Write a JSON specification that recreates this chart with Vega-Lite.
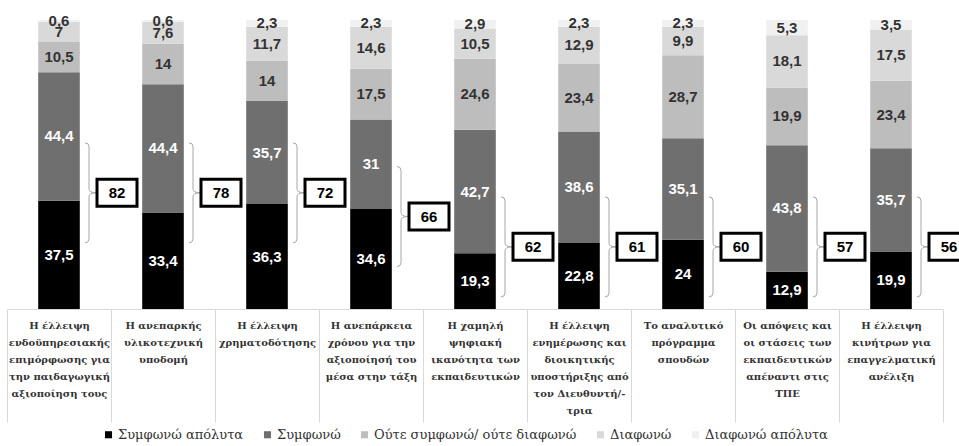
{
  "$schema": "https://vega.github.io/schema/vega-lite/v6.json",
  "autosize": {"type": "none"},
  "width": 936,
  "height": 289,
  "padding": {"left": 7, "top": 20, "right": 16, "bottom": 137},
  "background": "white",
  "datasets": {
    "main": [
      {"cat": "Η έλλειψη|ενδοϋπηρεσιακής|επιμόρφωσης για|την παιδαγωγική|αξιοποίηση τους", "resp": "Συμφωνώ απόλυτα", "o": 1, "value": 37.5},
      {"cat": "Η έλλειψη|ενδοϋπηρεσιακής|επιμόρφωσης για|την παιδαγωγική|αξιοποίηση τους", "resp": "Συμφωνώ", "o": 2, "value": 44.4},
      {"cat": "Η έλλειψη|ενδοϋπηρεσιακής|επιμόρφωσης για|την παιδαγωγική|αξιοποίηση τους", "resp": "Ούτε συμφωνώ/ ούτε διαφωνώ", "o": 3, "value": 10.5},
      {"cat": "Η έλλειψη|ενδοϋπηρεσιακής|επιμόρφωσης για|την παιδαγωγική|αξιοποίηση τους", "resp": "Διαφωνώ", "o": 4, "value": 7},
      {"cat": "Η έλλειψη|ενδοϋπηρεσιακής|επιμόρφωσης για|την παιδαγωγική|αξιοποίηση τους", "resp": "Διαφωνώ απόλυτα", "o": 5, "value": 0.6},
      {"cat": "Η ανεπαρκής|υλικοτεχνική|υποδομή", "resp": "Συμφωνώ απόλυτα", "o": 1, "value": 33.4},
      {"cat": "Η ανεπαρκής|υλικοτεχνική|υποδομή", "resp": "Συμφωνώ", "o": 2, "value": 44.4},
      {"cat": "Η ανεπαρκής|υλικοτεχνική|υποδομή", "resp": "Ούτε συμφωνώ/ ούτε διαφωνώ", "o": 3, "value": 14},
      {"cat": "Η ανεπαρκής|υλικοτεχνική|υποδομή", "resp": "Διαφωνώ", "o": 4, "value": 7.6},
      {"cat": "Η ανεπαρκής|υλικοτεχνική|υποδομή", "resp": "Διαφωνώ απόλυτα", "o": 5, "value": 0.6},
      {"cat": "Η έλλειψη|χρηματοδότησης", "resp": "Συμφωνώ απόλυτα", "o": 1, "value": 36.3},
      {"cat": "Η έλλειψη|χρηματοδότησης", "resp": "Συμφωνώ", "o": 2, "value": 35.7},
      {"cat": "Η έλλειψη|χρηματοδότησης", "resp": "Ούτε συμφωνώ/ ούτε διαφωνώ", "o": 3, "value": 14},
      {"cat": "Η έλλειψη|χρηματοδότησης", "resp": "Διαφωνώ", "o": 4, "value": 11.7},
      {"cat": "Η έλλειψη|χρηματοδότησης", "resp": "Διαφωνώ απόλυτα", "o": 5, "value": 2.3},
      {"cat": "Η ανεπάρκεια|χρόνου για την|αξιοποίησή του|μέσα στην τάξη", "resp": "Συμφωνώ απόλυτα", "o": 1, "value": 34.6},
      {"cat": "Η ανεπάρκεια|χρόνου για την|αξιοποίησή του|μέσα στην τάξη", "resp": "Συμφωνώ", "o": 2, "value": 31},
      {"cat": "Η ανεπάρκεια|χρόνου για την|αξιοποίησή του|μέσα στην τάξη", "resp": "Ούτε συμφωνώ/ ούτε διαφωνώ", "o": 3, "value": 17.5},
      {"cat": "Η ανεπάρκεια|χρόνου για την|αξιοποίησή του|μέσα στην τάξη", "resp": "Διαφωνώ", "o": 4, "value": 14.6},
      {"cat": "Η ανεπάρκεια|χρόνου για την|αξιοποίησή του|μέσα στην τάξη", "resp": "Διαφωνώ απόλυτα", "o": 5, "value": 2.3},
      {"cat": "Η χαμηλή|ψηφιακή|ικανότητα των|εκπαιδευτικών", "resp": "Συμφωνώ απόλυτα", "o": 1, "value": 19.3},
      {"cat": "Η χαμηλή|ψηφιακή|ικανότητα των|εκπαιδευτικών", "resp": "Συμφωνώ", "o": 2, "value": 42.7},
      {"cat": "Η χαμηλή|ψηφιακή|ικανότητα των|εκπαιδευτικών", "resp": "Ούτε συμφωνώ/ ούτε διαφωνώ", "o": 3, "value": 24.6},
      {"cat": "Η χαμηλή|ψηφιακή|ικανότητα των|εκπαιδευτικών", "resp": "Διαφωνώ", "o": 4, "value": 10.5},
      {"cat": "Η χαμηλή|ψηφιακή|ικανότητα των|εκπαιδευτικών", "resp": "Διαφωνώ απόλυτα", "o": 5, "value": 2.9},
      {"cat": "Η έλλειψη|ενημέρωσης και|διοικητικής|υποστήριξης από|τον Διευθυντή/-|τρια", "resp": "Συμφωνώ απόλυτα", "o": 1, "value": 22.8},
      {"cat": "Η έλλειψη|ενημέρωσης και|διοικητικής|υποστήριξης από|τον Διευθυντή/-|τρια", "resp": "Συμφωνώ", "o": 2, "value": 38.6},
      {"cat": "Η έλλειψη|ενημέρωσης και|διοικητικής|υποστήριξης από|τον Διευθυντή/-|τρια", "resp": "Ούτε συμφωνώ/ ούτε διαφωνώ", "o": 3, "value": 23.4},
      {"cat": "Η έλλειψη|ενημέρωσης και|διοικητικής|υποστήριξης από|τον Διευθυντή/-|τρια", "resp": "Διαφωνώ", "o": 4, "value": 12.9},
      {"cat": "Η έλλειψη|ενημέρωσης και|διοικητικής|υποστήριξης από|τον Διευθυντή/-|τρια", "resp": "Διαφωνώ απόλυτα", "o": 5, "value": 2.3},
      {"cat": "Το αναλυτικό|πρόγραμμα|σπουδών", "resp": "Συμφωνώ απόλυτα", "o": 1, "value": 24},
      {"cat": "Το αναλυτικό|πρόγραμμα|σπουδών", "resp": "Συμφωνώ", "o": 2, "value": 35.1},
      {"cat": "Το αναλυτικό|πρόγραμμα|σπουδών", "resp": "Ούτε συμφωνώ/ ούτε διαφωνώ", "o": 3, "value": 28.7},
      {"cat": "Το αναλυτικό|πρόγραμμα|σπουδών", "resp": "Διαφωνώ", "o": 4, "value": 9.9},
      {"cat": "Το αναλυτικό|πρόγραμμα|σπουδών", "resp": "Διαφωνώ απόλυτα", "o": 5, "value": 2.3},
      {"cat": "Οι απόψεις και|οι στάσεις των|εκπαιδευτικών|απέναντι στις|ΤΠΕ", "resp": "Συμφωνώ απόλυτα", "o": 1, "value": 12.9},
      {"cat": "Οι απόψεις και|οι στάσεις των|εκπαιδευτικών|απέναντι στις|ΤΠΕ", "resp": "Συμφωνώ", "o": 2, "value": 43.8},
      {"cat": "Οι απόψεις και|οι στάσεις των|εκπαιδευτικών|απέναντι στις|ΤΠΕ", "resp": "Ούτε συμφωνώ/ ούτε διαφωνώ", "o": 3, "value": 19.9},
      {"cat": "Οι απόψεις και|οι στάσεις των|εκπαιδευτικών|απέναντι στις|ΤΠΕ", "resp": "Διαφωνώ", "o": 4, "value": 18.1},
      {"cat": "Οι απόψεις και|οι στάσεις των|εκπαιδευτικών|απέναντι στις|ΤΠΕ", "resp": "Διαφωνώ απόλυτα", "o": 5, "value": 5.3},
      {"cat": "Η έλλειψη|κινήτρων για|επαγγελματική|ανέλιξη", "resp": "Συμφωνώ απόλυτα", "o": 1, "value": 19.9},
      {"cat": "Η έλλειψη|κινήτρων για|επαγγελματική|ανέλιξη", "resp": "Συμφωνώ", "o": 2, "value": 35.7},
      {"cat": "Η έλλειψη|κινήτρων για|επαγγελματική|ανέλιξη", "resp": "Ούτε συμφωνώ/ ούτε διαφωνώ", "o": 3, "value": 23.4},
      {"cat": "Η έλλειψη|κινήτρων για|επαγγελματική|ανέλιξη", "resp": "Διαφωνώ", "o": 4, "value": 17.5},
      {"cat": "Η έλλειψη|κινήτρων για|επαγγελματική|ανέλιξη", "resp": "Διαφωνώ απόλυτα", "o": 5, "value": 3.5}
    ],
    "totals": [
      {"cat": "Η έλλειψη|ενδοϋπηρεσιακής|επιμόρφωσης για|την παιδαγωγική|αξιοποίηση τους", "total": 82},
      {"cat": "Η ανεπαρκής|υλικοτεχνική|υποδομή", "total": 78},
      {"cat": "Η έλλειψη|χρηματοδότησης", "total": 72},
      {"cat": "Η ανεπάρκεια|χρόνου για την|αξιοποίησή του|μέσα στην τάξη", "total": 66},
      {"cat": "Η χαμηλή|ψηφιακή|ικανότητα των|εκπαιδευτικών", "total": 62},
      {"cat": "Η έλλειψη|ενημέρωσης και|διοικητικής|υποστήριξης από|τον Διευθυντή/-|τρια", "total": 61},
      {"cat": "Το αναλυτικό|πρόγραμμα|σπουδών", "total": 60},
      {"cat": "Οι απόψεις και|οι στάσεις των|εκπαιδευτικών|απέναντι στις|ΤΠΕ", "total": 57},
      {"cat": "Η έλλειψη|κινήτρων για|επαγγελματική|ανέλιξη", "total": 56}
    ]
  },
  "encoding": {
    "x": {
      "field": "cat",
      "type": "nominal",
      "sort": null,
      "scale": {"paddingInner": 0, "paddingOuter": 0},
      "axis": {
        "title": null,
        "labelExpr": "isValid(datum.value) ? split(datum.value, '|') : ''",
        "labelAngle": 0,
        "labelFont": "DejaVu Serif",
        "labelFontWeight": "bold",
        "labelFontSize": 10,
        "labelColor": "#333333",
        "labelLineHeight": 17,
        "labelBaseline": "top",
        "labelAlign": "center",
        "labelPadding": -102,
        "labelLimit": 300,
        "labelOverlap": false,
        "tickBand": "extent",
        "tickSize": 113,
        "tickColor": "#d9d9d9",
        "tickWidth": 1,
        "domainColor": "#d9d9d9",
        "domainWidth": 1
      }
    }
  },
  "layer": [
    {
      "data": {"name": "main"},
      "mark": {"type": "bar", "width": {"band": 0.4}},
      "encoding": {
        "y": {"field": "value", "type": "quantitative", "stack": "zero", "scale": {"domain": [0, 100], "nice": false}, "axis": null},
        "color": {
          "field": "resp",
          "type": "nominal",
          "scale": {
            "domain": ["Συμφωνώ απόλυτα", "Συμφωνώ", "Ούτε συμφωνώ/ ούτε διαφωνώ", "Διαφωνώ", "Διαφωνώ απόλυτα"],
            "range": ["#000000", "#6f6f6f", "#bdbdbd", "#d9d9d9", "#f0f0f0"]
          },
          "legend": {
            "title": null,
            "orient": "none",
            "legendX": 95,
            "legendY": 408,
            "direction": "horizontal",
            "columns": 5,
            "symbolType": "square",
            "symbolSize": 50,
            "symbolStrokeWidth": 0,
            "labelFont": "DejaVu Serif",
            "labelFontSize": 13,
            "labelColor": "#333333",
            "labelOffset": 3,
            "columnPadding": 17,
            "labelLimit": 400
          }
        },
        "order": {"field": "o", "type": "quantitative"}
      }
    },
    {
      "data": {"name": "main"},
      "transform": [
        {"stack": "value", "groupby": ["cat"], "sort": [{"field": "o", "order": "ascending"}], "as": ["v0", "v1"]},
        {"calculate": "(datum.v0 + datum.v1) / 2", "as": "mid"},
        {"calculate": "replace(toString(datum.value), '.', ',')", "as": "lab"}
      ],
      "mark": {"type": "text", "font": "Liberation Sans", "fontWeight": "bold", "fontSize": 15, "baseline": "middle", "align": "center"},
      "encoding": {
        "y": {"field": "mid", "type": "quantitative"},
        "text": {"field": "lab", "type": "nominal"},
        "color": {"condition": {"test": "datum.o <= 2", "value": "white"}, "value": "#333333"}
      }
    },
    {
      "data": {"name": "totals"},
      "transform": [
        {"calculate": "datum.total >= 70 ? 40.2 : (datum.total >= 64 ? 32 : 21.5)", "as": "pos"}
      ],
      "mark": {
        "type": "point",
        "shape": "M-0.08,-1Q0,-1,0,-0.92L0,-0.08Q0,0,0.15,0Q0,0,0,0.08L0,0.92Q0,1,-0.08,1",
        "size": 10000,
        "filled": false,
        "stroke": "#a6a6a6",
        "strokeWidth": 1,
        "opacity": 1,
        "xOffset": 30
      },
      "encoding": {
        "y": {"field": "pos", "type": "quantitative"}
      }
    },
    {
      "data": {"name": "totals"},
      "transform": [
        {"calculate": "datum.total >= 70 ? 40.2 : (datum.total >= 64 ? 32 : 21.5)", "as": "pos"}
      ],
      "mark": {
        "type": "point",
        "shape": "M-1,-0.675H1V0.675H-1Z",
        "size": 1600,
        "filled": true,
        "fill": "white",
        "stroke": "black",
        "strokeWidth": 3,
        "opacity": 1,
        "xOffset": 58
      },
      "encoding": {
        "y": {"field": "pos", "type": "quantitative"}
      }
    },
    {
      "data": {"name": "totals"},
      "transform": [
        {"calculate": "datum.total >= 70 ? 40.2 : (datum.total >= 64 ? 32 : 21.5)", "as": "pos"}
      ],
      "mark": {"type": "text", "font": "Liberation Sans", "fontWeight": "bold", "fontSize": 15, "color": "black", "baseline": "middle", "align": "center", "xOffset": 58},
      "encoding": {
        "y": {"field": "pos", "type": "quantitative"},
        "text": {"field": "total", "type": "quantitative"}
      }
    }
  ],
  "config": {
    "view": {"stroke": null}
  }
}
